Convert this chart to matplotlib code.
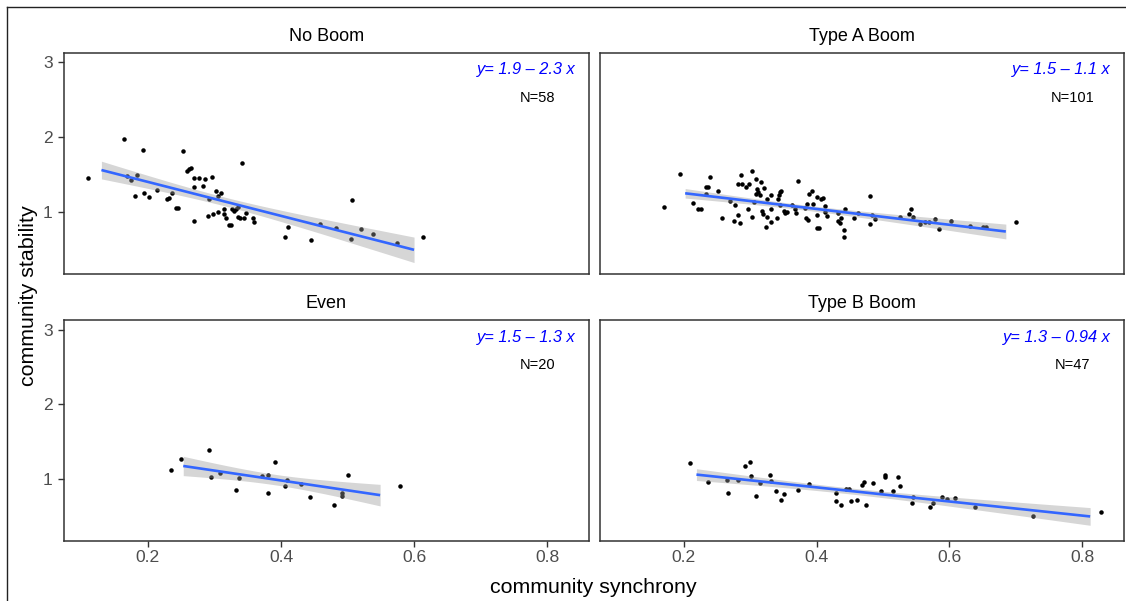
import numpy as np
import matplotlib
matplotlib.use("Agg")
import matplotlib.pyplot as plt
from matplotlib.lines import Line2D

plt.rcParams['font.family'] = ['Liberation Sans', 'DejaVu Sans']

# ---------------- data ----------------
panel_titles = ["No Boom", "Type A Boom", "Even", "Type B Boom"]

noboom_x = [0.110, 0.164, 0.1925, 0.169, 0.174, 0.183, 0.181, 0.194, 0.201, 0.213,
            0.228, 0.231, 0.236, 0.242, 0.245, 0.252, 0.259, 0.262, 0.264, 0.269,
            0.276, 0.285, 0.269, 0.283, 0.296, 0.269, 0.290, 0.291, 0.298, 0.303,
            0.306, 0.310, 0.306, 0.314, 0.314, 0.317, 0.322, 0.325, 0.326, 0.330,
            0.333, 0.336, 0.335, 0.338, 0.344, 0.347, 0.342, 0.358, 0.360, 0.406,
            0.411, 0.445, 0.458, 0.483, 0.507, 0.505, 0.520, 0.538, 0.575, 0.613]
noboom_y = [1.458, 1.978, 1.827, 1.484, 1.427, 1.489, 1.218, 1.258, 1.200, 1.293,
            1.178, 1.191, 1.258, 1.058, 1.058, 1.818, 1.547, 1.578, 1.591, 1.449,
            1.449, 1.444, 1.333, 1.347, 1.471, 0.884, 0.942, 1.173, 0.978, 1.284,
            1.218, 1.258, 1.000, 0.973, 1.044, 0.920, 0.831, 0.827, 1.036, 1.018,
            1.036, 1.062, 0.933, 0.924, 0.916, 0.987, 1.658, 0.924, 0.862, 0.667,
            0.804, 0.618, 0.840, 0.787, 1.160, 0.640, 0.769, 0.707, 0.587, 0.667]

typeA_x = [0.170, 0.195, 0.214, 0.222, 0.226, 0.233, 0.236, 0.240, 0.233, 0.251,
           0.257, 0.269, 0.275, 0.277, 0.281, 0.284, 0.281, 0.286, 0.287, 0.294,
           0.298, 0.303, 0.296, 0.302, 0.305, 0.309, 0.310, 0.308, 0.315, 0.317,
           0.311, 0.321, 0.318, 0.319, 0.325, 0.326, 0.324, 0.331, 0.331, 0.332,
           0.340, 0.342, 0.343, 0.345, 0.347, 0.345, 0.351, 0.353, 0.356, 0.363,
           0.367, 0.369, 0.372, 0.383, 0.385, 0.384, 0.387, 0.389, 0.393, 0.394,
           0.400, 0.401, 0.400, 0.404, 0.407, 0.410, 0.412, 0.415, 0.413, 0.432,
           0.432, 0.435, 0.437, 0.441, 0.441, 0.443, 0.456, 0.462, 0.481, 0.481,
           0.484, 0.488, 0.525, 0.539, 0.542, 0.545, 0.555, 0.564, 0.569, 0.578,
           0.585, 0.603, 0.631, 0.651, 0.655, 0.700]
typeA_y = [1.067, 1.507, 1.120, 1.040, 1.036, 1.329, 1.333, 1.467, 1.240, 1.276,
           0.916, 1.142, 0.876, 1.098, 0.960, 0.853, 1.373, 1.489, 1.373, 1.338,
           1.373, 1.547, 1.036, 0.933, 1.138, 1.440, 1.307, 1.240, 1.227, 1.404,
           1.271, 1.324, 1.009, 0.973, 1.173, 0.938, 0.800, 1.222, 0.862, 1.040,
           0.920, 1.173, 1.222, 1.267, 1.276, 1.089, 1.018, 0.982, 1.000, 1.093,
           1.036, 0.982, 1.413, 1.058, 1.107, 0.916, 0.889, 1.240, 1.280, 1.102,
           1.204, 0.956, 0.787, 0.791, 1.178, 1.191, 0.996, 0.951, 1.080, 0.982,
           0.880, 0.849, 0.916, 0.760, 0.671, 1.036, 0.916, 0.982, 1.209, 0.844,
           0.964, 0.907, 0.938, 0.973, 1.044, 0.938, 0.836, 0.871, 0.871, 0.907,
           0.773, 0.880, 0.818, 0.804, 0.804, 0.867]

even_x = [0.234, 0.250, 0.291, 0.295, 0.309, 0.332, 0.337, 0.371, 0.380, 0.380,
          0.391, 0.406, 0.409, 0.430, 0.443, 0.479, 0.491, 0.492, 0.501, 0.579]
even_y = [1.124, 1.271, 1.391, 1.027, 1.080, 0.858, 1.013, 1.044, 1.062, 0.813,
          1.236, 0.907, 0.987, 0.933, 0.769, 0.658, 0.813, 0.773, 1.058, 0.916]

typeB_x = [0.210, 0.236, 0.265, 0.267, 0.281, 0.292, 0.300, 0.301, 0.308, 0.314,
           0.330, 0.332, 0.339, 0.347, 0.351, 0.372, 0.389, 0.429, 0.429, 0.436,
           0.444, 0.449, 0.452, 0.461, 0.469, 0.471, 0.475, 0.485, 0.497, 0.503,
           0.503, 0.515, 0.522, 0.525, 0.544, 0.545, 0.571, 0.576, 0.589, 0.597,
           0.609, 0.638, 0.726, 0.828]
typeB_y = [1.213, 0.964, 0.991, 0.822, 0.991, 1.182, 1.236, 1.044, 0.782, 0.951,
           1.053, 0.982, 0.844, 0.720, 0.809, 0.858, 0.933, 0.822, 0.707, 0.653,
           0.876, 0.876, 0.707, 0.720, 0.920, 0.969, 0.649, 0.956, 0.844, 1.053,
           1.036, 0.844, 1.027, 0.907, 0.676, 0.764, 0.627, 0.676, 0.769, 0.733,
           0.747, 0.627, 0.502, 0.556]

# fitted lines
fit_intercepts = [1.854, 1.462, 1.511, 1.269]
fit_slopes = [-2.268, -1.057, -1.318, -0.944]
fit_x_start = [0.130, 0.202, 0.253, 0.219]
fit_x_end = [0.600, 0.685, 0.549, 0.812]

equation_labels = ["y= 1.9 \u2013 2.3 x", "y= 1.5 \u2013 1.1 x",
                   "y= 1.5 \u2013 1.3 x", "y= 1.3 \u2013 0.94 x"]
n_labels = ["N=58", "N=101", "N=20", "N=47"]

x_ticks = [0.2, 0.4, 0.6, 0.8]
x_ticklabels = ["0.2", "0.4", "0.6", "0.8"]
y_ticks = [1, 2, 3]
y_ticklabels = ["1", "2", "3"]

series_x = [noboom_x, typeA_x, even_x, typeB_x]
series_y = [noboom_y, typeA_y, even_y, typeB_y]

# ---------------- figure ----------------
W, H = 1126, 601
fig = plt.figure(figsize=(W / 100, H / 100), dpi=100)


def frac_rect(x0, y0, x1, y1):
    return [x0 / W, 1 - y1 / H, (x1 - x0) / W, (y1 - y0) / H]


rects = [frac_rect(63.5, 52.5, 589, 274),
         frac_rect(599.5, 52.5, 1124, 274),
         frac_rect(63.5, 320, 589, 541.3),
         frac_rect(599.5, 320, 1124, 541.3)]

spine_col = '#333333'
line_col = '#3366FF'


def t975(df):
    z = 1.959964
    return z + (z**3 + z) / (4 * df) + (5 * z**5 + 16 * z**3 + 3 * z) / (96 * df**2)


for i in range(4):
    ax = fig.add_axes(rects[i])
    x = np.asarray(series_x[i])
    y = np.asarray(series_y[i])
    a, b = fit_intercepts[i], fit_slopes[i]

    ax.scatter(x, y, s=10.5, c='black', linewidths=0, zorder=2)

    n = len(x)
    resid = y - (a + b * x)
    s = np.sqrt(np.sum(resid ** 2) / (n - 2))
    xbar = x.mean()
    sxx = np.sum((x - xbar) ** 2)
    xs = np.linspace(fit_x_start[i], fit_x_end[i], 100)
    yh = a + b * xs
    se = s * np.sqrt(1.0 / n + (xs - xbar) ** 2 / sxx)
    t = t975(n - 2)
    ax.fill_between(xs, yh - t * se, yh + t * se, color='#999999', alpha=0.4,
                    linewidth=0, zorder=3)
    ax.plot(xs, yh, color=line_col, lw=1.9, zorder=4, solid_capstyle='butt')

    ax.set_xlim(0.073, 0.863)
    ax.set_ylim(0.17, 3.13)
    ax.set_xticks(x_ticks)
    ax.set_yticks(y_ticks)
    ax.set_xticklabels(x_ticklabels)
    ax.set_yticklabels(y_ticklabels)

    for sp in ax.spines.values():
        sp.set_color(spine_col)
        sp.set_linewidth(1.1)

    ax.tick_params(axis='both', direction='out', length=4.3, width=1.0,
                   color=spine_col, labelcolor='#4D4D4D', labelsize=12.6)
    ax.tick_params(axis='x', pad=2)
    ax.tick_params(axis='y', pad=3.5)

    if i in (0, 1):
        ax.tick_params(axis='x', bottom=False, labelbottom=False)
    if i in (1, 3):
        ax.tick_params(axis='y', left=False, labelleft=False)

    ax.text(0.5, 1.052, panel_titles[i], transform=ax.transAxes, ha='center',
            va='baseline', fontsize=13, color='black')
    ax.text(0.975, 0.922, equation_labels[i], transform=ax.transAxes, ha='right',
            va='center', fontsize=11.8, color='blue', style='italic')
    ax.text(0.902, 0.796, n_labels[i], transform=ax.transAxes, ha='center',
            va='center', fontsize=10.5, color='black')

fig.text(593.8 / W, 1 - 593.3 / H, "community synchrony", ha='center',
         va='baseline', fontsize=15.4, color='black')
fig.text(34 / W, 1 - 296 / H, "community stability", ha='center', va='baseline',
         rotation=90, rotation_mode='anchor', fontsize=15.4, color='black')

# outer frame lines (top and left)
fig.add_artist(Line2D([6.5 / W, 1.0], [1 - 7 / H, 1 - 7 / H], color='#222222',
                      lw=1.0, transform=fig.transFigure))
fig.add_artist(Line2D([6.7 / W, 6.7 / W], [1 - 7 / H, 0.0], color='#222222',
                      lw=1.0, transform=fig.transFigure))

fig.savefig("out.png", dpi=100, facecolor='white')
